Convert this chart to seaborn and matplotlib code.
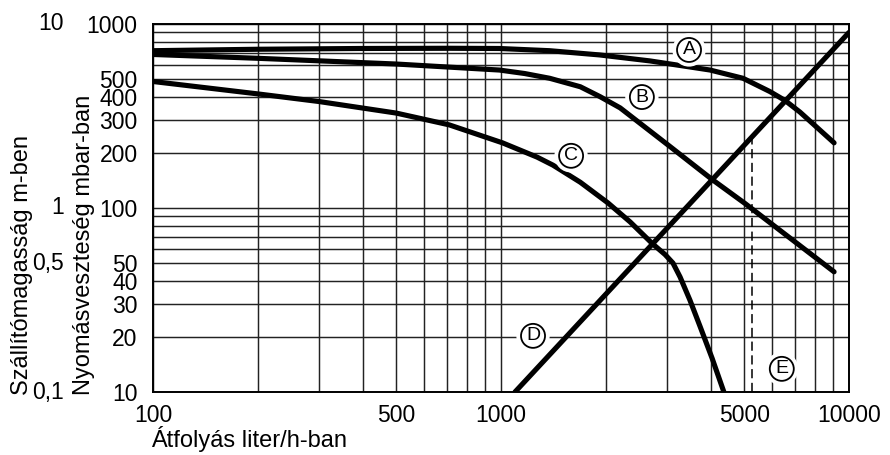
import matplotlib
matplotlib.use("Agg")
import matplotlib.pyplot as plt
import matplotlib.transforms as mtransforms
from matplotlib.ticker import FixedLocator, FixedFormatter, LogLocator, NullFormatter
import pandas as pd
import seaborn as sns

# ---- data (flow in liter/h, pressure loss in mbar) ----
a_flow = [100, 200, 390, 710, 990, 1380, 1920, 2680, 3990, 4960, 5930, 6550, 7230, 8040, 9060]
a_loss = [716, 729, 736, 738, 736, 716, 679, 630, 562, 507, 429, 384, 332, 277, 226]
b_flow = [100, 200, 500, 990, 1170, 1380, 1690, 1925, 2200, 3020, 4060, 5020, 6340, 9060]
b_loss = [683, 651, 606, 562, 538, 507, 456, 403, 350, 220, 142, 106, 75.5, 45]
c_flow = [100, 200, 300, 500, 710, 1010, 1270, 1410, 1690, 2030, 2350, 2730, 2960, 3120,
          3270, 3490, 3730, 4040, 4370]
c_loss = [487, 417, 379, 328, 283, 226, 189, 171, 138, 106.5, 84, 63.7, 55.9, 50.2,
          42.2, 31.6, 22.8, 15.3, 10]
d_flow = [1097, 10000]
d_loss = [10, 900]
e_flow = [5260, 5260]
e_loss = [10, 243]

label_text = ["A", "B", "C", "D", "E"]
label_flow = [3470, 2540, 1590, 1236, 6410]
label_loss = [741, 411, 197, 20.7, 13.7]

x_ticks = [100, 500, 1000, 5000, 10000]
x_ticklabels = ["100", "500", "1000", "5000", "10000"]
y_ticks = [10, 20, 30, 40, 50, 100, 200, 300, 400, 500, 1000]
y_ticklabels = ["10", "20", "30", "40", "50", "100", "200", "300", "400", "500", "1000"]
m_ticks = [0.1, 0.5, 1, 10]
m_ticklabels = ["0,1", "0,5", "1", "10"]
mbar_per_m = 100

sns.set_theme(style="white")
plt.rcParams["font.family"] = ["Liberation Sans", "DejaVu Sans"]

curves = pd.concat([
    pd.DataFrame({"flow": a_flow, "loss": a_loss, "curve": "A"}),
    pd.DataFrame({"flow": b_flow, "loss": b_loss, "curve": "B"}),
    pd.DataFrame({"flow": c_flow, "loss": c_loss, "curve": "C"}),
    pd.DataFrame({"flow": d_flow, "loss": d_loss, "curve": "D"}),
])
dashed = pd.DataFrame({"flow": e_flow, "loss": e_loss})

fig = plt.figure(figsize=(8.9, 4.55), dpi=100, facecolor="white")
ax = fig.add_axes([153 / 890, 63 / 455, 696 / 890, 368 / 455])

sns.lineplot(data=curves, x="flow", y="loss", units="curve", estimator=None,
             sort=False, color="black", linewidth=3.7, ax=ax, zorder=3,
             solid_joinstyle="round")
sns.lineplot(data=dashed, x="flow", y="loss", estimator=None, sort=False,
             color="black", linewidth=1.1, linestyle=(0, (6, 3)), ax=ax, zorder=3)

ax.set_xscale("log")
ax.set_yscale("log")
ax.set_xlim(100, 10000)
ax.set_ylim(10, 1000)

ax.xaxis.set_major_locator(FixedLocator(x_ticks))
ax.xaxis.set_major_formatter(FixedFormatter(x_ticklabels))
ax.xaxis.set_minor_locator(LogLocator(base=10, subs=range(1, 10), numticks=30))
ax.xaxis.set_minor_formatter(NullFormatter())
ax.yaxis.set_major_locator(FixedLocator(y_ticks))
ax.yaxis.set_major_formatter(FixedFormatter(y_ticklabels))
ax.yaxis.set_minor_locator(LogLocator(base=10, subs=range(1, 10), numticks=30))
ax.yaxis.set_minor_formatter(NullFormatter())

ax.grid(which="both", color="#222222", linewidth=1.05)
ax.set_axisbelow(True)
ax.tick_params(which="both", length=0, labelsize=16.5, colors="black")
ax.tick_params(axis="x", pad=9)
ax.tick_params(axis="y", pad=11)
for s in ax.spines.values():
    s.set_visible(True)
    s.set_color("black")
    s.set_linewidth(1.4)
ax.set_xlabel("")
ax.set_ylabel("")

# second (metre) scale on the left
trans = mtransforms.blended_transform_factory(ax.transAxes, ax.transData)
for m, lab in zip(m_ticks, m_ticklabels):
    ax.text(-0.128, m * mbar_per_m, lab, transform=trans, ha="right",
            va="center", fontsize=16.5, color="black", clip_on=False)

# circled curve labels
for t, fx, fy in zip(label_text, label_flow, label_loss):
    ax.text(fx, fy, t, ha="center", va="center_baseline", fontsize=14, color="white",
            bbox=dict(boxstyle="circle,pad=0.42", fc="white", ec="none"), zorder=4)
    ax.text(fx, fy, t, ha="center", va="center_baseline", fontsize=14, color="black",
            bbox=dict(boxstyle="circle,pad=0.18", fc="white", ec="black", lw=1.3),
            zorder=5)

fig.text(22 / 890, 60 / 455, "Szállítómagasság m-ben", rotation=90,
         ha="center", va="bottom", fontsize=17, color="black")
fig.text(84 / 890, 60 / 455, "Nyomásveszteség mbar-ban", rotation=90,
         ha="center", va="bottom", fontsize=17, color="black")
fig.text(151 / 890, 8 / 455, "Átfolyás liter/h-ban", ha="left",
         va="baseline", fontsize=17, color="black")

fig.savefig("out.png", dpi=100, facecolor="white")
